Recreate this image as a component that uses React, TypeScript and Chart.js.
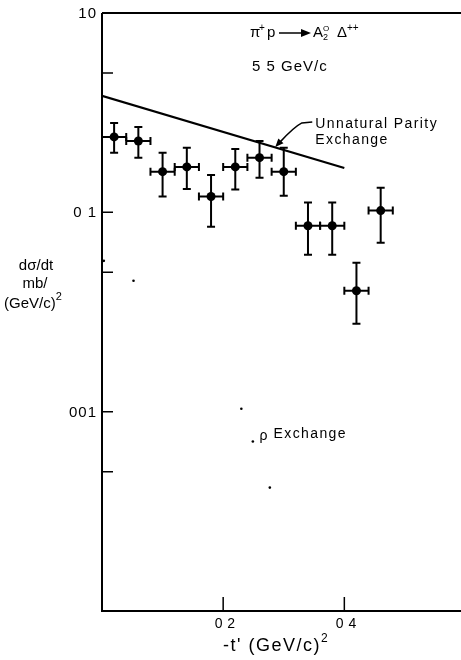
import React, { useEffect, useRef } from "react";
import { Chart, registerables } from "chart.js";

Chart.register(...registerables);

const FONT = '"Liberation Sans", Arial, Helvetica, sans-serif';

// Measured cross-section, pi+ p -> A2(0) Delta(++) at 5.5 GeV/c
const tPrime = [0.02, 0.06, 0.1, 0.14, 0.18, 0.22, 0.26, 0.3, 0.34, 0.38, 0.42, 0.46];
const dSigmaDt = [0.239, 0.228, 0.16, 0.169, 0.12, 0.169, 0.188, 0.16, 0.0856, 0.0856, 0.0404, 0.102];
const errHigh = [0.281, 0.268, 0.199, 0.211, 0.154, 0.208, 0.228, 0.211, 0.112, 0.112, 0.0558, 0.133];
const errLow = [0.199, 0.188, 0.12, 0.131, 0.0846, 0.13, 0.149, 0.121, 0.0612, 0.0612, 0.0276, 0.0703];
const binHalfWidth = 0.02;

// Unnatural parity exchange prediction (straight line on the log plot)
const unnaturalT = [0, 0.4];
const unnaturalVal = [0.384, 0.167];

// rho exchange prediction, dotted
const rhoT = [0.003, 0.052, 0.23, 0.249, 0.277];
const rhoVal = [0.0571, 0.0454, 0.01035, 0.00708, 0.00416];

// Axis ticks
const yMajorTicks = [1, 0.1, 0.01];
const yMajorLabels = ["10", "0 1", "001"];
const yMinorTicks = [0.5, 0.05, 0.005];
const xTicks = [0.2, 0.4];
const xTickLabels = ["0 2", "0 4"];

function setSpacing(ctx: CanvasRenderingContext2D, px: number) {
  (ctx as any).letterSpacing = px + "px";
}

function txt(
  ctx: CanvasRenderingContext2D,
  s: string,
  x: number,
  y: number,
  size: number,
  align: CanvasTextAlign = "left",
  spacing = 0
) {
  ctx.font = `${size}px ${FONT}`;
  setSpacing(ctx, spacing);
  ctx.textAlign = align;
  ctx.textBaseline = "alphabetic";
  ctx.fillText(s, x, y);
}

const errorBarPlugin = {
  id: "errorBars",
  beforeDatasetsDraw(chart: any) {
    const ctx: CanvasRenderingContext2D = chart.ctx;
    const xs = chart.scales.x;
    const ys = chart.scales.y;
    ctx.save();
    ctx.strokeStyle = "#000";
    ctx.lineWidth = 2;
    const cap = 4;
    for (let i = 0; i < tPrime.length; i++) {
      const cx = xs.getPixelForValue(tPrime[i]);
      const cy = ys.getPixelForValue(dSigmaDt[i]);
      const yt = ys.getPixelForValue(errHigh[i]);
      const yb = ys.getPixelForValue(errLow[i]);
      const xl = xs.getPixelForValue(tPrime[i] - binHalfWidth);
      const xr = xs.getPixelForValue(tPrime[i] + binHalfWidth);
      ctx.beginPath();
      ctx.moveTo(cx, yt);
      ctx.lineTo(cx, yb);
      ctx.moveTo(cx - cap, yt);
      ctx.lineTo(cx + cap, yt);
      ctx.moveTo(cx - cap, yb);
      ctx.lineTo(cx + cap, yb);
      ctx.moveTo(xl, cy);
      ctx.lineTo(xr, cy);
      ctx.moveTo(xl, cy - cap);
      ctx.lineTo(xl, cy + cap);
      ctx.moveTo(xr, cy - cap);
      ctx.lineTo(xr, cy + cap);
      ctx.stroke();
    }
    ctx.restore();
  },
};

const framePlugin = {
  id: "frame",
  afterDraw(chart: any) {
    const ctx: CanvasRenderingContext2D = chart.ctx;
    const { left, right, top, bottom } = chart.chartArea;
    const xs = chart.scales.x;
    const ys = chart.scales.y;
    ctx.save();
    ctx.fillStyle = "#000";
    ctx.strokeStyle = "#000";

    // frame
    ctx.lineWidth = 2;
    ctx.beginPath();
    ctx.moveTo(left, top);
    ctx.lineTo(left, bottom);
    ctx.lineTo(right, bottom);
    ctx.moveTo(left, top);
    ctx.lineTo(right, top);
    ctx.stroke();

    // y ticks
    ctx.lineWidth = 1.5;
    ctx.beginPath();
    [...yMajorTicks, ...yMinorTicks].forEach((v) => {
      const y = ys.getPixelForValue(v);
      if (v < 1) {
        ctx.moveTo(left, y);
        ctx.lineTo(left + 11, y);
      }
    });
    // x ticks
    xTicks.forEach((v) => {
      const x = xs.getPixelForValue(v);
      ctx.moveTo(x, bottom);
      ctx.lineTo(x, bottom - 14);
    });
    ctx.stroke();

    yMajorTicks.forEach((v, i) => {
      const y = ys.getPixelForValue(v);
      txt(ctx, yMajorLabels[i], left - 5, y + 5, 15, "right", 1);
    });
    xTicks.forEach((v, i) => {
      const x = xs.getPixelForValue(v);
      txt(ctx, xTickLabels[i], x + 2, bottom + 17, 14, "center", 0.5);
    });

    // x axis title
    txt(ctx, "-t' (GeV/c)", 223, bottom + 40, 18, "left", 1.5);
    ctx.font = `18px ${FONT}`;
    setSpacing(ctx, 1.5);
    const wx = ctx.measureText("-t' (GeV/c)").width;
    txt(ctx, "2", 223 + wx, bottom + 31, 12, "left", 0);

    // y axis title
    txt(ctx, "d\u03c3/dt", 36, 270, 15, "center", 0);
    txt(ctx, "mb/", 35, 288, 15, "center", 0);
    txt(ctx, "(GeV/c)", 4, 308, 15, "left", 0);
    ctx.font = `15px ${FONT}`;
    setSpacing(ctx, 0);
    const wy = ctx.measureText("(GeV/c)").width;
    txt(ctx, "2", 4 + wy, 300, 11, "left", 0);

    // reaction label
    const by = top + 24;
    txt(ctx, "\u03c0", 250, by, 15, "left", 0);
    txt(ctx, "+", 259, by - 6, 10, "left", 0);
    txt(ctx, "p", 267, by, 15, "left", 0);
    ctx.lineWidth = 1.5;
    ctx.beginPath();
    ctx.moveTo(279, by - 4);
    ctx.lineTo(304, by - 4);
    ctx.stroke();
    ctx.beginPath();
    ctx.moveTo(311, by - 4);
    ctx.lineTo(301, by - 8);
    ctx.lineTo(301, by);
    ctx.closePath();
    ctx.fill();
    txt(ctx, "A", 313, by, 15, "left", 0);
    txt(ctx, "O", 323, by - 6, 8, "left", 0);
    txt(ctx, "2", 323, by + 3, 9, "left", 0);
    txt(ctx, "\u0394", 337, by, 15, "left", 0);
    txt(ctx, "++", 347, by - 6, 10, "left", 0);
    txt(ctx, "5 5 GeV/c", 252, top + 58, 15, "left", 1);

    // unnatural parity annotation
    const ax = xs.getPixelForValue(0.352);
    const ay = ys.getPixelForValue(0.28);
    txt(ctx, "Unnatural Parity", ax, ay + 5, 14, "left", 1.4);
    txt(ctx, "Exchange", ax, ay + 21, 14, "left", 1.4);
    const tailX = xs.getPixelForValue(0.33);
    const tailY = ys.getPixelForValue(0.281);
    const tipX = xs.getPixelForValue(0.286);
    const tipY = ys.getPixelForValue(0.213);
    ctx.lineWidth = 1.5;
    ctx.beginPath();
    ctx.moveTo(ax - 3, tailY - 1);
    ctx.lineTo(tailX, tailY);
    ctx.quadraticCurveTo(tailX - 8, tailY + 4, tipX + 4, tipY - 4);
    ctx.stroke();
    const ang = Math.atan2(tipY - (tailY + 4), tipX - (tailX - 8));
    ctx.beginPath();
    ctx.moveTo(tipX, tipY);
    ctx.lineTo(tipX - 9 * Math.cos(ang - 0.4), tipY - 9 * Math.sin(ang - 0.4));
    ctx.lineTo(tipX - 9 * Math.cos(ang + 0.4), tipY - 9 * Math.sin(ang + 0.4));
    ctx.closePath();
    ctx.fill();

    // rho exchange label
    const rx = xs.getPixelForValue(0.26);
    const ry = ys.getPixelForValue(0.0074);
    txt(ctx, "\u03c1", rx, ry + 2, 14, "left", 0);
    txt(ctx, "Exchange", rx + 14, ry, 14, "left", 1.4);

    ctx.restore();
  },
};

export default function App() {
  const ref = useRef<HTMLCanvasElement>(null);

  useEffect(() => {
    document.body.style.margin = "0";
    const canvas = ref.current!;
    const chart = new Chart(canvas, {
      type: "scatter",
      data: {
        datasets: [
          {
            label: "Unnatural Parity Exchange",
            data: unnaturalT.map((t, i) => ({ x: t, y: unnaturalVal[i] })),
            showLine: true,
            borderColor: "#000",
            borderWidth: 2.2,
            pointRadius: 0,
          },
          {
            label: "rho Exchange",
            data: rhoT.map((t, i) => ({ x: t, y: rhoVal[i] })),
            backgroundColor: "#000",
            borderColor: "#000",
            pointRadius: 1.3,
            borderWidth: 0,
          },
          {
            label: "data",
            data: tPrime.map((t, i) => ({ x: t, y: dSigmaDt[i] })),
            backgroundColor: "#000",
            borderColor: "#000",
            pointRadius: 4.5,
            borderWidth: 0,
          },
        ],
      },
      options: {
        responsive: false,
        animation: false,
        devicePixelRatio: 1,
        layout: { padding: { left: 102, top: 13, right: 1, bottom: 49 } },
        scales: {
          x: { type: "linear", min: 0, max: 0.6, display: false },
          y: { type: "logarithmic", min: 0.001, max: 1, display: false },
        },
        plugins: {
          legend: { display: false },
          tooltip: { enabled: false },
        },
      },
      plugins: [errorBarPlugin, framePlugin],
    });
    return () => chart.destroy();
  }, []);

  return (
    <div style={{ width: 461, height: 660, overflow: "hidden", background: "#fff" }}>
      <canvas ref={ref} width={470} height={660} style={{ display: "block" }} />
    </div>
  );
}
